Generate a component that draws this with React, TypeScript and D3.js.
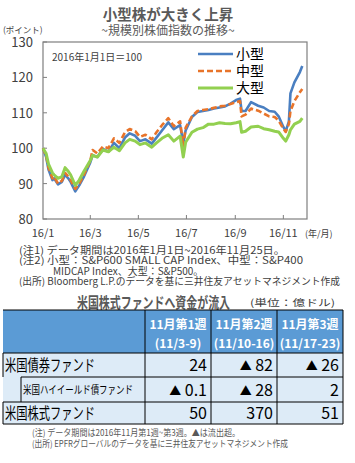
import React from "react";
import * as d3 from "d3";

const dates = [
  "2016-01-01","2016-01-05","2016-01-08","2016-01-13","2016-01-15","2016-01-20","2016-01-25","2016-01-29",
  "2016-02-02","2016-02-05","2016-02-11","2016-02-16","2016-02-22","2016-03-01","2016-03-04","2016-03-10",
  "2016-03-17","2016-03-24","2016-03-31","2016-04-07","2016-04-14","2016-04-20","2016-04-27","2016-05-03",
  "2016-05-10","2016-05-18","2016-05-24","2016-05-31","2016-06-08","2016-06-15","2016-06-23","2016-06-27",
  "2016-06-30","2016-07-08","2016-07-15","2016-07-22","2016-07-29","2016-08-05","2016-08-12","2016-08-19",
  "2016-08-26","2016-09-02","2016-09-07","2016-09-09","2016-09-14","2016-09-21","2016-09-30","2016-10-07",
  "2016-10-14","2016-10-21","2016-10-26","2016-11-01","2016-11-04","2016-11-08","2016-11-10","2016-11-15",
  "2016-11-22","2016-11-25"
];
const smallCap = [
  100,97.5,94,91,91.5,89.8,90.5,92.5,
  91.5,90.5,87.8,89.5,92,96,98,97.5,
  99.8,99,101.5,100,103,104.2,103.5,102,
  102.5,101.3,103,105,107.3,105.4,106.5,101.5,
  105,108.8,110.2,110.5,110.8,111.2,111.5,111.8,
  112.6,113.6,114,110.5,110.5,113,112,111.5,
  110.5,110.3,109,106,104.8,107.5,115.5,118.6,
  121.5,123.2
];
const midCap = [
  100,97.8,94.5,91.5,92,90,90.8,93,
  92,91,88.5,90,92.5,96.5,99.5,98.5,
  100.5,100,102.8,101.5,104.5,105.4,104.8,103.2,
  103.8,102.5,104.5,106.5,108.5,106.2,107.6,100.6,
  105.8,109,110.5,110.8,111,111.4,111.8,112,
  112.5,113,113.3,109,109.5,111.2,110.6,109.8,
  109,108.8,107.8,105.5,104.6,106.8,110.5,113.3,
  115.8,116.7
];
const largeCap = [
  100,98.5,95.5,93,92.5,91.5,92,94.5,
  93.5,92.5,89.5,91,93.5,96.5,98,97.5,
  99.5,99,100.3,99.3,101.5,102.5,102,101,
  101.5,100.3,101.5,102.8,103.8,102,103.4,97.5,
  101.7,104.5,105.4,105.8,106.8,106.8,107.2,107,
  106.9,107.2,107.5,104.5,104.8,106,106.2,105.5,
  105.2,104.8,104.6,102.8,102,103.8,105.2,106.8,
  107.6,108.5
];
const seriesNames = ["小型", "中型", "大型"];
const yTicks = [80, 90, 100, 110, 120, 130];
const xTickDates = ["2016-01-01","2016-03-01","2016-05-01","2016-07-01","2016-09-01","2016-11-01"];
const xTickLabels = ["16/1","16/3","16/5","16/7","16/9","16/11"];

const weekHeaders = ["11月第1週","11月第2週","11月第3週"];
const weekRanges = ["(11/3-9)","(11/10-16)","(11/17-23)"];
const rowLabels = ["米国債券ファンド","米国ハイイールド債ファンド","米国株式ファンド"];
const rowValues = [
  ["24","▲ 82","▲ 26"],
  ["▲ 0.1","▲ 28","2"],
  ["50","370","51"],
];

const FONT = "'Noto Sans CJK JP', 'Noto Sans', sans-serif";
const GRAY = "#404040";

function Value({ x, y, v }: { x: number; y: number; v: string }) {
  const tri = v.startsWith("▲");
  return (
    <text x={x} y={y} textAnchor="end" fontSize={16} fill="#000">
      {tri && <tspan fontSize={12}>▲</tspan>}
      {tri ? v.slice(1) : v}
    </text>
  );
}

export default function App() {
  const parse = d3.timeParse("%Y-%m-%d");
  const x = d3.scaleTime()
    .domain([parse("2016-01-01")!, parse("2016-12-01")!])
    .range([43, 307]);
  const y = d3.scaleLinear().domain([80, 130]).range([219, 42]);
  const series = [smallCap, midCap, largeCap];
  const colors = ["#4A7FC1", "#E8742A", "#92D050"];
  const dashes = [undefined, "6,3", undefined];
  const widths = [2.6, 2.6, 3];
  const line = (vals: number[]) =>
    d3.line<number>()
      .x((_, i) => x(parse(dates[i])!))
      .y((v) => y(v))(vals) || "";

  const colX = [3, 145, 211, 277, 343];
  const rowY = [310, 353, 377, 402, 424];

  return (
    <svg width={355} height={463} style={{ position: "absolute", left: 0, top: 0, fontFamily: FONT }}>
      <rect width={355} height={463} fill="#fff" />
      {/* Titles */}
      <text x={168} y={20} textAnchor="middle" fontSize={14.5} fontWeight="bold" fill="#595959">小型株が大きく上昇</text>
      <text x={168} y={35} textAnchor="middle" fontSize={12} fill="#595959">~規模別株価指数の推移~</text>
      <text x={3} y={33} fontSize={8.5} fill={GRAY}>(ポイント)</text>

      {/* plot box */}
      <rect x={43} y={42} width={264} height={177} fill="none" stroke="#7f7f7f" strokeWidth={1.2} />
      {yTicks.map((t) => (
        <g key={t}>
          <line x1={43} x2={47} y1={y(t)} y2={y(t)} stroke="#7f7f7f" />
          <text x={33} y={y(t) + 5} textAnchor="end" fontSize={13} fill={GRAY}>{t}</text>
        </g>
      ))}
      {xTickDates.map((d, i) => (
        <g key={d}>
          {i > 0 && <line x1={x(parse(d)!)} x2={x(parse(d)!)} y1={215} y2={219} stroke="#7f7f7f" />}
          <text x={x(parse(d)!)} y={237} textAnchor="middle" fontSize={11} fill={GRAY}>{xTickLabels[i]}</text>
        </g>
      ))}
      <text x={305} y={237} fontSize={9} fill={GRAY}>(年/月)</text>
      <text x={52} y={61} fontSize={10} fill={GRAY}>2016年1月1日＝100</text>

      {series.map((s, i) => (
        <path key={i} d={line(s)} fill="none" stroke={colors[i]} strokeWidth={widths[i]}
          strokeDasharray={dashes[i]} strokeLinejoin="round" />
      ))}
      {seriesNames.map((n, i) => (
        <g key={n}>
          <line x1={198} x2={233} y1={54 + i * 17} y2={54 + i * 17} stroke={colors[i]} strokeWidth={widths[i]}
            strokeDasharray={dashes[i]} />
          <text x={236} y={59 + i * 17} fontSize={14} fill="#000">{n}</text>
        </g>
      ))}

      {/* chart notes */}
      <text x={19} y={253.5} fontSize={10} fill={GRAY} textLength={266} lengthAdjust="spacingAndGlyphs">(注1) データ期間は2016年1月1日~2016年11月25日。</text>
      <text x={19} y={264} fontSize={10} fill={GRAY} textLength={284} lengthAdjust="spacingAndGlyphs">(注2) 小型：S&amp;P600 SMALL CAP Index、中型：S&amp;P400</text>
      <text x={53} y={274.5} fontSize={10} fill={GRAY}>MIDCAP Index、大型：S&amp;P500。</text>
      <text x={19} y={285} fontSize={10} fill={GRAY} textLength={321} lengthAdjust="spacingAndGlyphs">(出所) Bloomberg L.P.のデータを基に三井住友アセットマネジメント作成</text>

      {/* table title */}
      <text x={77} y={308} fontSize={15} fontWeight="bold" fill="#595959" textLength={153} lengthAdjust="spacingAndGlyphs">米国株式ファンドへ資金が流入</text>
      <text x={250} y={306} fontSize={9.5} fill={GRAY} textLength={85} lengthAdjust="spacingAndGlyphs">(単位：億ドル)</text>

      {/* table */}
      <rect x={colX[0]} y={rowY[0]} width={colX[4] - colX[0]} height={rowY[1] - rowY[0]} fill="#5B9BD5" />
      <rect x={colX[0]} y={rowY[1]} width={colX[4] - colX[0]} height={rowY[4] - rowY[1]} fill="#DDEBF7" />
      {weekHeaders.map((h, i) => (
        <g key={h}>
          <text x={(colX[i + 1] + colX[i + 2]) / 2} y={329} textAnchor="middle" fontSize={12} fontWeight="bold" fill="#fff">{h}</text>
          <text x={(colX[i + 1] + colX[i + 2]) / 2} y={348} textAnchor="middle" fontSize={12} fontWeight="bold" fill="#fff">{weekRanges[i]}</text>
        </g>
      ))}
      {/* grid lines */}
      <g stroke="#000" strokeWidth={1}>
        <line x1={colX[0]} x2={colX[4]} y1={rowY[0]} y2={rowY[0]} />
        <line x1={colX[0]} x2={colX[4]} y1={rowY[1]} y2={rowY[1]} />
        <line x1={21} x2={colX[4]} y1={rowY[2]} y2={rowY[2]} />
        <line x1={colX[0]} x2={colX[4]} y1={rowY[3]} y2={rowY[3]} />
        <line x1={colX[0]} x2={colX[4]} y1={rowY[4]} y2={rowY[4]} />
        <line x1={colX[0]} x2={colX[0]} y1={rowY[1]} y2={rowY[2]} />
        <line x1={colX[0]} x2={colX[0]} y1={rowY[3]} y2={rowY[4]} />
        <line x1={21} x2={21} y1={rowY[2]} y2={rowY[3]} />
        {colX.slice(1).map((cx, i) => (
          <line key={i} x1={cx} x2={cx} y1={rowY[0]} y2={rowY[4]} />
        ))}
      </g>
      {rowLabels.map((r, i) => (
        i === 1 ? (
          <text key={r} x={23} y={(rowY[i + 1] + rowY[i + 2]) / 2 + 4} fontSize={11} fill="#000" textLength={110} lengthAdjust="spacingAndGlyphs">{r}</text>
        ) : (
          <text key={r} x={5} y={(rowY[i + 1] + rowY[i + 2]) / 2 + 6} fontSize={16} fill="#000" textLength={90} lengthAdjust="spacingAndGlyphs">{r}</text>
        )
      ))}
      {rowValues.map((row, i) => row.map((v, j) => (
        <Value key={i + "-" + j} x={colX[j + 2] - 4} y={(rowY[i + 1] + rowY[i + 2]) / 2 + 6} v={v} />
      )))}

      <text x={32} y={436} fontSize={9} fill="#595959" textLength={208} lengthAdjust="spacingAndGlyphs">(注) データ期間は2016年11月第1週~第3週。▲は流出超。</text>
      <text x={32} y={447} fontSize={9} fill="#595959" textLength={256} lengthAdjust="spacingAndGlyphs">(出所) EPFRグローバルのデータを基に三井住友アセットマネジメント作成</text>
    </svg>
  );
}
